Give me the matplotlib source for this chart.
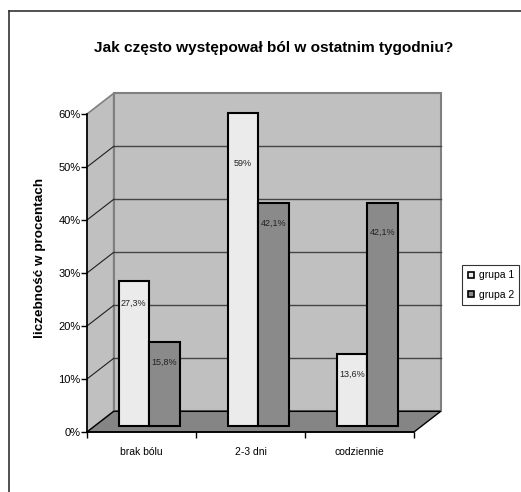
import matplotlib
matplotlib.use('Agg')
import matplotlib.pyplot as plt
from matplotlib.patches import Polygon
from matplotlib.lines import Line2D

# DANE
categories = ['brak bólu', '2-3 dni', 'codziennie']
grupa1 = [27.3, 59, 13.6]
grupa2 = [15.8, 42.1, 42.1]
series_names = ['grupa 1', 'grupa 2']
yticks = [0, 10, 20, 30, 40, 50, 60]

title = 'Jak często występował ból w ostatnim tygodniu?'
ylabel = 'liczebność w procentach'

plt.rcParams['font.family'] = ['Liberation Sans', 'DejaVu Sans']

W, H = 521, 492
fig = plt.figure(figsize=(W / 100, H / 100), dpi=100)
ax = fig.add_axes([87 / W, 60 / H, 327 / W, 318 / H])
ax.set_xlim(0, 3)
ax.set_ylim(0, 60)
ax.patch.set_visible(False)

# "3D" - głębokość ścian i przesunięcie słupków
dx, dy = 0.245, 3.9
bx, by = 0.069, 1.13
w = 0.28
ymax = yticks[-1]

wall = '#c0c0c0'
ax.add_patch(Polygon([(0, 0), (dx, dy), (dx, ymax + dy), (0, ymax)],
                     fc=wall, ec='#808080', lw=1.2, clip_on=False, zorder=0))
ax.add_patch(Polygon([(dx, dy), (3 + dx, dy), (3 + dx, ymax + dy), (dx, ymax + dy)],
                     fc=wall, ec='#808080', lw=1.5, clip_on=False, zorder=0))
ax.add_patch(Polygon([(0, 0), (3, 0), (3 + dx, dy), (dx, dy)],
                     fc='#858585', ec='black', lw=1, clip_on=False, zorder=1))

# siatka
for v in yticks[1:-1]:
    ax.plot([dx, 3 + dx], [v + dy, v + dy], color='#454545', lw=1, clip_on=False, zorder=1)
    ax.plot([0, dx], [v, v + dy], color='#202020', lw=0.8, clip_on=False, zorder=1)

# SŁUPKI
pos1 = [i + 0.5 + bx - w / 2 for i in range(len(categories))]
pos2 = [i + 0.5 + bx + w / 2 for i in range(len(categories))]
b1 = ax.bar(pos1, grupa1, w, bottom=by, color='#ebebeb', edgecolor='black', lw=1.5,
            zorder=3, clip_on=False)
b2 = ax.bar(pos2, grupa2, w, bottom=by, color='#8a8a8a', edgecolor='black', lw=1.5,
            zorder=3, clip_on=False)

# etykiety wartości
drop1 = [-22, -50, -20]
drop2 = [-20, -20, -29]
for bars, vals, drops in [(b1, grupa1, drop1), (b2, grupa2, drop2)]:
    for r, v, d in zip(bars, vals, drops):
        txt = f'{v:g}'.replace('.', ',') + '%'
        ax.annotate(txt, (r.get_x() + r.get_width() / 2, by + v), xytext=(0, d),
                    textcoords='offset pixels', ha='center', va='center',
                    fontsize=6.5, color='#222222', zorder=4, annotation_clip=False)

# OSIE
for s in ['top', 'right']:
    ax.spines[s].set_visible(False)
for s in ['left', 'bottom']:
    ax.spines[s].set_linewidth(1.2)
    ax.spines[s].set_zorder(5)
ax.set_yticks(yticks)
ax.set_yticklabels([f'{v}%' for v in yticks])
ax.tick_params(axis='y', direction='out', length=4, width=1, labelsize=8, pad=0.5)
ax.set_xticks(range(len(categories) + 1))
ax.set_xticklabels([])
ax.set_xticks([i + 0.5 for i in range(len(categories))], minor=True)
ax.set_xticklabels(categories, minor=True)
ax.tick_params(axis='x', which='major', direction='out', length=4, width=1)
ax.tick_params(axis='x', which='minor', length=0, labelsize=7.5, pad=10.5)

fig.text(274 / W, 1 - 48 / H, title, ha='center', va='center', fontsize=11.1, fontweight='bold')
fig.text(40 / W, 1 - 258 / H, ylabel, rotation=90, ha='center', va='center',
         fontsize=9.7, fontweight='bold')

handles = [Line2D([], [], marker='s', ls='', mfc=c, mec='black', ms=5, mew=1.2)
           for c in ['#ebebeb', '#8a8a8a']]
leg = fig.legend(handles, series_names, loc='upper left', bbox_to_anchor=(462 / W, 1 - 265 / H),
                 fontsize=7.5, frameon=True, fancybox=False, edgecolor='black',
                 handletextpad=0.3, borderpad=0.5, labelspacing=0.9, handlelength=0.8,
                 borderaxespad=0)
leg.get_frame().set_linewidth(0.8)

# ramka
fig.add_artist(Line2D([9 / W, 9 / W], [0, 1 - 11 / H], transform=fig.transFigure, color='#333333', lw=1.2))
fig.add_artist(Line2D([9 / W, 1], [1 - 11 / H, 1 - 11 / H], transform=fig.transFigure, color='#333333', lw=1.2))

fig.savefig('out.png', dpi=100)
